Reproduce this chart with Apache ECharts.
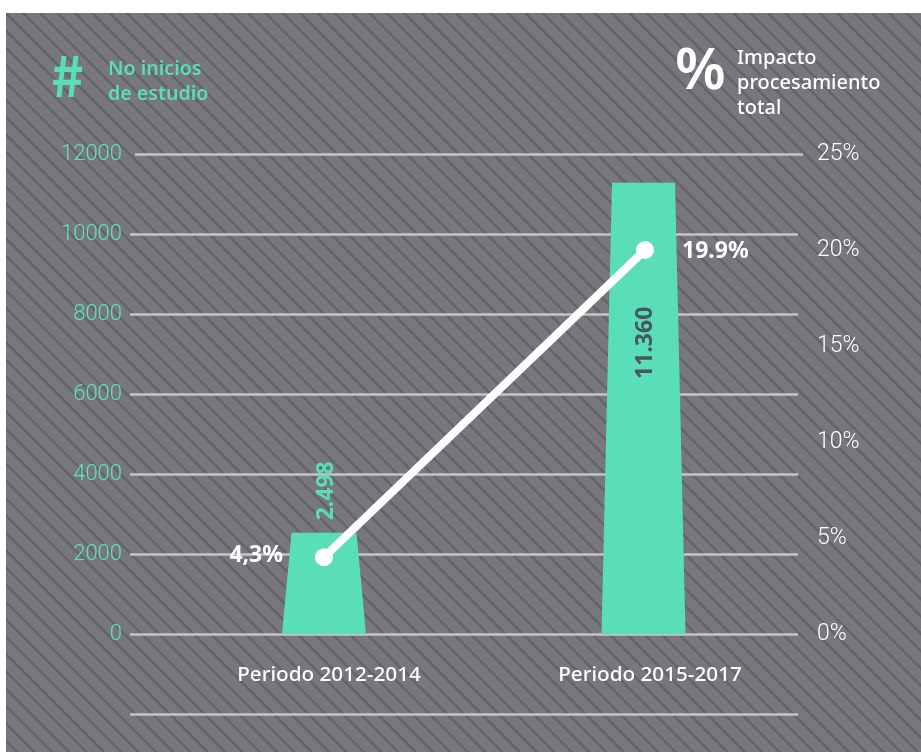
<!DOCTYPE html>
<html><head><meta charset="utf-8">
<style>
html,body{margin:0;padding:0;background:#fff;width:921px;height:752px;overflow:hidden}
#bg{position:absolute;left:6px;top:13px;width:915px;height:739px;
background:repeating-linear-gradient(45deg,#78777c 0,#78777c 6.2px,#63646e 6.9px,#63646e 8.8px,#78777c 9.5px,#78777c 12.25px)}
#c{position:absolute;left:0;top:0;width:921px;height:752px}
</style>
<script src="https://cdn.jsdelivr.net/npm/echarts@6/dist/echarts.min.js"></script>
</head><body><div id="bg"></div><div id="c"></div>
<script>
const categories = ['Periodo 2012-2014','Periodo 2015-2017'];
const startsDrawn = [2530, 11280];
const startsLabels = ['2.498','11.360'];
const impactDrawn = [4.0, 20.0];
const impactLabels = ['4,3%','19.9%'];
const leftTicks = [0,2000,4000,6000,8000,10000,12000];
const rightTicks = [0,5,10,15,20,25];
const GREEN='#59deb8', LINE='#c6c4c7', FONT='"Noto Sans",sans-serif';
const chart = echarts.init(document.getElementById('c'),null,{renderer:'canvas'});
const hiddenX = i => ({gridIndex:i,type:'value',min:0,max:1,show:false});
chart.setOption({
  animation:false,
  backgroundColor:'transparent',
  grid:[
    {left:163.5,width:642,top:154,height:560},
    {left:130,right:123,top:154,height:560},
    {left:135,right:118,top:154,height:560}
  ],
  xAxis:[
    {gridIndex:0,type:'category',data:categories,axisLine:{show:false},axisTick:{show:false},
     position:'bottom',offset:-80,
     axisLabel:{color:'#fff',fontFamily:FONT,fontSize:20.7,fontWeight:500,margin:31,padding:[0,0,0,10],interval:0}},
    hiddenX(1),hiddenX(2)
  ],
  yAxis:[
    {gridIndex:0,type:'value',min:-2000,max:12000,splitLine:{show:false},axisLine:{show:false},axisTick:{show:false},
     axisLabel:{customValues:leftTicks,formatter:v=>String(v),color:'#5fe3bd',fontFamily:'Roboto',fontWeight:300,fontSize:22,margin:41.5,padding:[7,0,0,0]}},
    {gridIndex:0,type:'value',position:'right',min:-25/6,max:25,splitLine:{show:false},axisLine:{show:false},axisTick:{show:false},
     axisLabel:{customValues:rightTicks,formatter:'{value}%',color:'#fff',fontFamily:'Roboto',fontWeight:300,fontSize:23,margin:11.5,padding:[7,0,0,0]}},
    {gridIndex:1,type:'value',min:-2000,max:12000,interval:2000,axisLine:{show:false},axisTick:{show:false},axisLabel:{show:false},
     splitLine:{show:true,showMaxLine:false,lineStyle:{color:LINE,width:2.6}}},
    {gridIndex:2,type:'value',min:-2000,max:12000,interval:14000,axisLine:{show:false},axisTick:{show:false},axisLabel:{show:false},
     splitLine:{show:true,showMinLine:false,lineStyle:{color:LINE,width:2.6}}}
  ],
  series:[
    {type:'line',xAxisIndex:1,yAxisIndex:2,data:[],silent:true},
    {type:'line',xAxisIndex:2,yAxisIndex:3,data:[],silent:true},
    {type:'custom',xAxisIndex:0,yAxisIndex:0,z:3,
     data:categories.map((c,i)=>[i,startsDrawn[i]]),
     encode:{x:0,y:1},
     renderItem(params,api){
       const i=api.value(0), top=api.coord([i,api.value(1)]), base=api.coord([i,0]);
       const half=42, inset=i===0?9.5:10.5, dx=i===0?0:-1.5;
       const labelDy=i===0?-42:160;
       return {type:'group',children:[
         {type:'polygon',shape:{points:[[top[0]+dx-half+inset,top[1]],[top[0]+dx+half-inset,top[1]],[base[0]+dx+half,base[1]],[base[0]+dx-half,base[1]]]},
          style:{fill:GREEN}},
         {type:'text',x:top[0]+dx+2,y:top[1]+labelDy,rotation:Math.PI/2,
          style:{text:startsLabels[i],fill:i===0?GREEN:'#47565f',font:'700 23px '+FONT,textAlign:'center',textVerticalAlign:'middle'}}
       ]};
     }},
    {type:'line',xAxisIndex:0,yAxisIndex:1,z:4,
     data:impactDrawn.map((v,i)=>({value:[i,v],label:{position:i===0?'left':'right',distance:i===0?32:28,offset:i===0?[0,-2]:[0,1]}})),
     lineStyle:{color:'#fff',width:8,cap:'round'},itemStyle:{color:'#fff',opacity:1},
     symbol:'circle',symbolSize:18,
     label:{show:true,formatter:p=>impactLabels[p.dataIndex],color:'#fff',fontFamily:FONT,fontWeight:700,fontSize:23}}
  ],
  graphic:[
    {type:'text',left:51,top:48,style:{text:'#',fill:GREEN,font:'700 56px "Noto Sans CJK SC"'}},
    {type:'text',left:108,top:57,style:{text:'No inicios\nde estudio',fill:GREEN,font:'600 19.6px '+FONT,lineHeight:25}},
    {type:'text',left:675,top:43,style:{text:'%',fill:'#fff',font:'600 58px '+FONT}},
    {type:'text',left:737,top:46,style:{text:'Impacto\nprocesamiento\ntotal',fill:'#fff',font:'500 20px '+FONT,lineHeight:25}}
  ]
});
</script></body></html>
